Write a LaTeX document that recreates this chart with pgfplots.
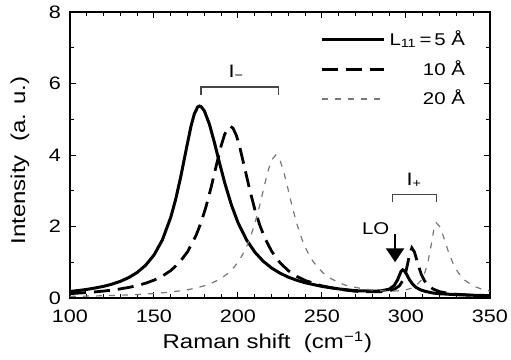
\documentclass[border=0pt]{standalone}
\usepackage{pgfplots}
\pgfplotsset{compat=1.18}
\usepackage{fontspec}
\setmainfont{Liberation Sans}[FakeStretch=1.2]
\usetikzlibrary{arrows.meta}
\definecolor{dotgray}{RGB}{120,120,120}
\definecolor{brk}{RGB}{70,70,70}
\begin{document}
\begin{tikzpicture}
\useasboundingbox (-35pt,-31pt) rectangle (220.5pt,149pt);
\begin{axis}[
  scale only axis, width=210pt, height=143pt,
  xmin=100, xmax=350, ymin=0, ymax=8,
  xtick={100,150,...,350}, ytick={0,2,4,6,8},
  minor x tick num=4, minor y tick num=1,
  tick align=inside, tick pos=both,
  major tick length=3pt, minor tick length=1.8pt,
  every tick/.style={black, line width=0.5pt},
  axis line style={line width=0.8pt},
  /pgf/number format/assume math mode=true,
  tick label style={font=\fontsize{9}{10}\selectfont},
  xticklabel style={yshift=-2.5pt},
  yticklabel style={xshift=-1pt},
  label style={font=\fontsize{10.5}{12}\selectfont},
  xlabel={Raman shift\ \ (cm\textsuperscript{−1})},
  ylabel={Intensity\ \ (a. u.)},
  every axis x label/.style={at={(axis description cs:0.47,0)}, yshift=-22pt, anchor=center},
  every axis y label/.style={at={(axis description cs:0,0.48)}, xshift=-25pt, rotate=90, anchor=center},
  legend style={at={(rel axis cs:0.965,0.965)}, anchor=north east, draw=none, fill=none,
    font=\fontsize{8.5}{10}\selectfont, row sep=2pt},
  legend cell align=right,
  legend image code/.code={\draw[#1] (0pt,0pt) -- (31pt,0pt);},
]
\addplot[black, line width=1.5pt] coordinates {
(100,0.184)(105,0.209)(110,0.240)(115,0.279)(120,0.326)(125,0.387)(130,0.467)(135,0.572)(140,0.715)(145,0.915)(150,1.202)(155,1.626)(160,2.261)(163,2.779)(166,3.408)(169,4.117)(172,4.799)(174,5.150)(176,5.344)(177,5.37)(178,5.354)(180,5.232)(183,4.859)(186,4.342)(189,3.780)(192,3.240)(196,2.613)(200,2.109)(205,1.632)(210,1.284)(215,1.029)(220,0.839)(225,0.695)(230,0.583)(235,0.496)(240,0.426)(250,0.324)(260,0.254)(270,0.204)(280,0.192)(285,0.198)(290,0.246)(293,0.350)(295,0.510)(296,0.626)(297,0.738)(298,0.787)(299,0.761)(300,0.694)(302,0.517)(304,0.383)(306,0.296)(309,0.221)(312,0.180)(316,0.140)(320,0.120)(330,0.093)(340,0.077)(350,0.066)
};
\addlegendentry{L\textsubscript{11}\,=\,5 Å}
\addplot[black, line width=1.4pt, dash pattern=on 8pt off 4pt] coordinates {
(100,0.123)(105,0.137)(110,0.153)(115,0.172)(120,0.194)(125,0.221)(130,0.255)(135,0.296)(140,0.347)(145,0.413)(150,0.499)(155,0.613)(160,0.768)(165,0.985)(170,1.295)(175,1.746)(178,2.110)(181,2.560)(184,3.096)(187,3.690)(190,4.263)(192,4.567)(194,4.755)(195.5,4.8)(197,4.752)(199,4.552)(201,4.231)(204,3.633)(207,3.023)(210,2.481)(213,2.033)(216,1.674)(220,1.309)(225,0.986)(230,0.763)(235,0.605)(240,0.490)(250,0.338)(260,0.246)(270,0.187)(280,0.175)(285,0.176)(290,0.201)(293,0.242)(296,0.338)(298,0.479)(300,0.752)(301,0.963)(302,1.200)(303.5,1.401)(305,1.290)(307,0.964)(309,0.675)(311,0.483)(313,0.361)(316,0.254)(320,0.179)(325,0.131)(330,0.104)(340,0.075)(350,0.060)
};
\addlegendentry{10 Å}
\addplot[dotgray, line width=0.6pt, dash pattern=on 3pt off 3.5pt] coordinates {
(100,0.045)(110,0.053)(120,0.063)(130,0.078)(140,0.097)(150,0.125)(160,0.166)(170,0.231)(175,0.279)(180,0.342)(185,0.429)(190,0.552)(194,0.689)(198,0.879)(201,1.071)(204,1.322)(207,1.652)(210,2.078)(213,2.608)(216,3.200)(218,3.572)(220,3.857)(222.5,4.0)(225,3.857)(227,3.572)(229,3.200)(232,2.608)(235,2.078)(238,1.652)(241,1.322)(244,1.071)(247,0.879)(251,0.689)(255,0.552)(260,0.429)(265,0.342)(270,0.297)(275,0.253)(280,0.223)(285,0.203)(290,0.194)(295,0.200)(300,0.229)(303,0.270)(306,0.344)(309,0.494)(311,0.678)(313,0.989)(315,1.483)(316.5,1.902)(318,2.103)(320,2.004)(322,1.762)(325,1.328)(328,0.968)(331,0.715)(335,0.497)(340,0.339)(345,0.248)(350,0.190)
};
\addlegendentry{20 Å}
% brackets
\draw[brk, line width=0.7pt] (axis cs:178,5.68) -- (axis cs:178,5.9) -- (axis cs:224,5.9) -- (axis cs:224,5.68);
\node[font=\fontsize{9}{10}\selectfont] at (axis cs:199,6.3) {I\textsubscript{−}};
\draw[brk, line width=0.7pt] (axis cs:292,2.68) -- (axis cs:292,2.9) -- (axis cs:318,2.9) -- (axis cs:318,2.68);
\node[font=\fontsize{9}{10}\selectfont] at (axis cs:305,3.3) {I\textsubscript{+}};
\node[font=\fontsize{8.5}{10}\selectfont] at (axis cs:282,1.95) {LO};
\draw[line width=1.3pt, -{Triangle[width=9pt,length=7pt]}] (axis cs:293.5,1.78) -- (axis cs:293.5,1.0);
\end{axis}
\end{tikzpicture}
\end{document}
